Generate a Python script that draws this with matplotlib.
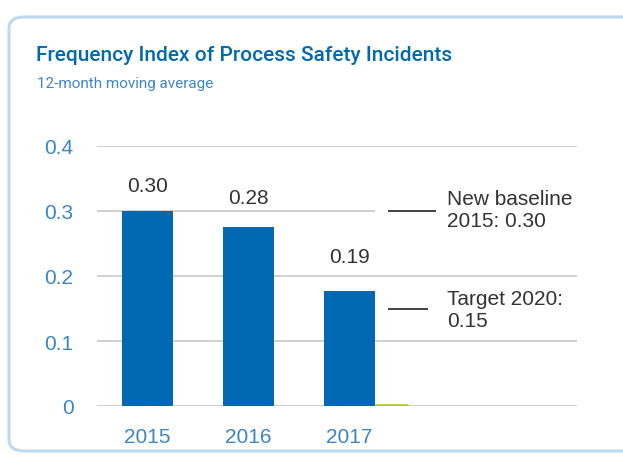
import matplotlib.pyplot as plt
from matplotlib.patches import FancyBboxPatch

# data
years = ["2015", "2016", "2017"]
values = [0.30, 0.275, 0.177]
value_labels = ["0.30", "0.28", "0.19"]
label_values = [0.30, 0.28, 0.19]
baseline = 0.30
target = 0.15
y_ticks = [0, 0.1, 0.2, 0.3, 0.4]
y_tick_labels = ["0", "0.1", "0.2", "0.3", "0.4"]

BLUE = "#0069b1"
TICK_BLUE = "#3b86c6"
GRID = "#c8c8c8"
TEXT = "#333333"

plt.rcParams["font.family"] = ["Liberation Sans", "DejaVu Sans"]

W, H = 623, 456
fig = plt.figure(figsize=(W / 100, H / 100), dpi=100)

# rounded frame
frame = FancyBboxPatch((9 / W, 4 / H), 640 / W, (H - 18 - 4) / H,
                       boxstyle="round,pad=0,rounding_size=0.025",
                       transform=fig.transFigure, facecolor="none",
                       edgecolor="#bcd9ee", linewidth=2.2, clip_on=False,
                       zorder=-1)
fig.patches.append(frame)

fig.text(36 / W, 1 - 46 / H, "Frequency Index of Process Safety Incidents",
         color=BLUE, fontsize=15, fontweight="medium", family="Roboto",
         va="top", ha="left")
fig.text(37 / W, 1 - 77 / H, "12-month moving average",
         color="#3f86c4", fontsize=11, family="Roboto",
         va="top", ha="left")

ax = fig.add_axes([97 / W, (H - 407) / H, 480 / W, 260 / H])
ax.set_facecolor("none")
ax.set_xlim(-0.5, 4.25)
ax.set_ylim(0, 0.4)

x = list(range(len(years)))

# gridlines (the 0.3 one stops at the last bar)
for yv in y_ticks:
    right = 2.25 if yv == 0.3 else 4.25
    ax.hlines(yv, -0.5, right, color=GRID, linewidth=1.2, zorder=1)

ax.bar(x, values, width=0.5, color=BLUE, zorder=2)

for xi, lab, lv in zip(x, value_labels, label_values):
    ax.text(xi, lv + 0.04, lab, ha="center", va="center",
            fontsize=15, color=TEXT)

# small target marker at the baseline
ax.hlines(0.002, 2.25, 2.58, color="#b6c72f", linewidth=2, zorder=3)

# annotations
ax.hlines(baseline, 2.38, 2.85, color="#222222", linewidth=1.2)
ax.text(2.96, baseline + 0.003, "New baseline\n2015: 0.30", ha="left",
        va="center", fontsize=15, color=TEXT, linespacing=1.2)
ax.hlines(target, 2.38, 2.78, color="#222222", linewidth=1.2)
ax.text(2.96, target - 0.002, "Target 2020:\n0.15", ha="left", va="center",
        fontsize=15, color=TEXT, linespacing=1.2)

ax.set_yticks(y_ticks)
ax.set_yticklabels(y_tick_labels)
ax.set_xticks(x)
ax.set_xticklabels(years)
ax.tick_params(axis="y", length=0, pad=17, labelsize=15, labelcolor=TICK_BLUE)
ax.tick_params(axis="x", length=0, pad=15, labelsize=15, labelcolor=TICK_BLUE)
for s in ax.spines.values():
    s.set_visible(False)

fig.savefig("out.png", dpi=100)
plt.close(fig)
